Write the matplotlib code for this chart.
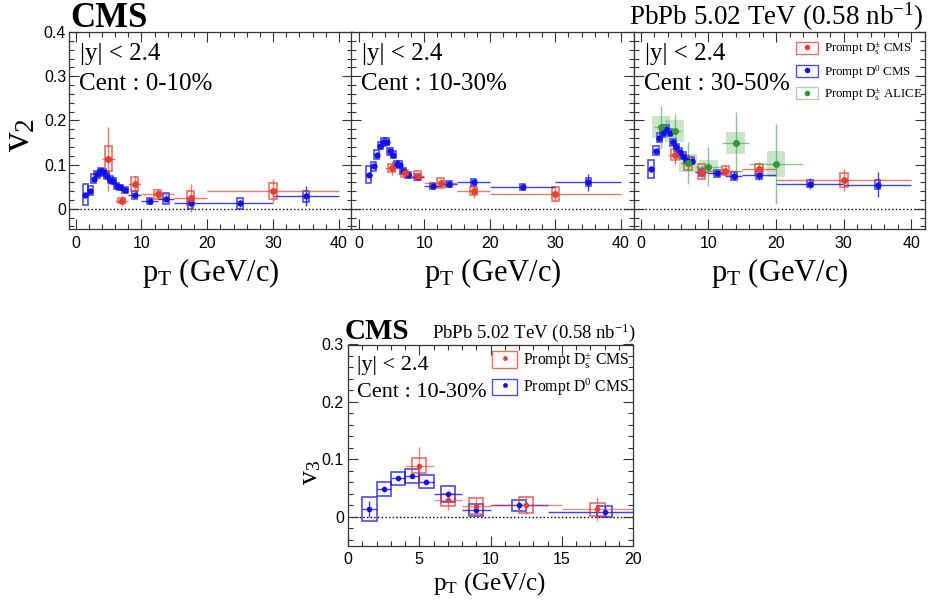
import matplotlib
matplotlib.use("Agg")
import matplotlib.pyplot as plt
from matplotlib.patches import Rectangle, Patch
from matplotlib.lines import Line2D
from matplotlib.legend_handler import HandlerTuple
from matplotlib.ticker import MultipleLocator, FuncFormatter
from matplotlib.colors import to_rgba

plt.rcParams['font.family'] = 'Liberation Serif'
plt.rcParams['mathtext.fontset'] = 'custom'
plt.rcParams['mathtext.rm'] = 'Liberation Serif'
plt.rcParams['mathtext.it'] = 'Liberation Serif:italic'
plt.rcParams['mathtext.bf'] = 'Liberation Serif:bold'

W, H = 932, 614

# %%
# D0 v2 (CMS), same pT bins in all three centrality classes
d0_pt = [1.5, 2.25, 2.75, 3.25, 3.75, 4.25, 4.75, 5.25, 5.75, 6.25, 6.75, 7.5, 9, 11.25, 13.75, 17.5, 25, 35]
d0_xerr = [0.5, 0.25, 0.25, 0.25, 0.25, 0.25, 0.25, 0.25, 0.25, 0.25, 0.25, 0.5, 1, 1.25, 1.25, 2.5, 5, 5]

d0_v2_010 = [0.032, 0.041, 0.068, 0.078, 0.085, 0.082, 0.075, 0.066, 0.062, 0.052, 0.048, 0.042, 0.031, 0.0175, 0.023, 0.012, 0.012, 0.028]
d0_stat_010 = [0.006, 0.005, 0.004, 0.004, 0.004, 0.004, 0.004, 0.004, 0.004, 0.004, 0.004, 0.004, 0.005, 0.006, 0.007, 0.009, 0.008, 0.023]
d0_syst_010 = [0.023, 0.011, 0.01, 0.008, 0.008, 0.008, 0.008, 0.007, 0.007, 0.007, 0.006, 0.006, 0.009, 0.006, 0.012, 0.013, 0.012, 0.013]

d0_v2_1030 = [0.077, 0.096, 0.122, 0.143, 0.151, 0.152, 0.13, 0.122, 0.102, 0.10, 0.086, 0.077, 0.071, 0.052, 0.055, 0.06, 0.05, 0.06]
d0_stat_1030 = [0.005, 0.004, 0.003, 0.003, 0.003, 0.003, 0.003, 0.003, 0.003, 0.003, 0.003, 0.003, 0.003, 0.004, 0.005, 0.005, 0.006, 0.019]
d0_syst_1030 = [0.019, 0.01, 0.01, 0.008, 0.008, 0.008, 0.008, 0.008, 0.007, 0.007, 0.007, 0.007, 0.007, 0.007, 0.007, 0.008, 0.007, 0.009]

d0_v2_3050 = [0.090, 0.131, 0.161, 0.171, 0.181, 0.172, 0.15, 0.139, 0.129, 0.12, 0.111, 0.109, 0.082, 0.08, 0.074, 0.076, 0.057, 0.054]
d0_stat_3050 = [0.006, 0.005, 0.004, 0.004, 0.004, 0.004, 0.004, 0.004, 0.004, 0.004, 0.004, 0.004, 0.005, 0.006, 0.008, 0.01, 0.012, 0.028]
d0_syst_3050 = [0.02, 0.01, 0.01, 0.008, 0.008, 0.008, 0.008, 0.008, 0.008, 0.008, 0.008, 0.008, 0.008, 0.008, 0.008, 0.009, 0.008, 0.01]

# Ds v2 (CMS)
ds_pt = [5, 7, 9, 12.5, 17.5, 30]
ds_xerr = [1, 1, 1, 2.5, 2.5, 10]

ds_v2_010 = [0.113, 0.018, 0.056, 0.033, 0.024, 0.041]
ds_stat_010 = [0.073, 0.012, 0.017, 0.011, 0.031, 0.026]
ds_syst_010 = [0.028, 0.006, 0.015, 0.010, 0.015, 0.018]

ds_v2_1030 = [0.092, 0.080, 0.075, 0.058, 0.039, 0.033]
ds_stat_1030 = [0.016, 0.010, 0.008, 0.009, 0.015, 0.017]
ds_syst_1030 = [0.009, 0.008, 0.010, 0.012, 0.009, 0.016]

ds_v2_3050 = [0.122, 0.103, 0.084, 0.086, 0.090, 0.064]
ds_stat_3050 = [0.021, 0.015, 0.016, 0.012, 0.016, 0.025]
ds_syst_3050 = [0.012, 0.015, 0.017, 0.010, 0.011, 0.016]

# Ds v2 (ALICE), 30-50%
al_pt = [3, 5, 7, 10, 14, 20]
al_xerr = [1, 1, 1, 2, 2, 4]
al_v2 = [0.184, 0.176, 0.103, 0.095, 0.148, 0.101]
al_stat = [0.049, 0.039, 0.048, 0.044, 0.070, 0.091]
al_syst = [0.025, 0.024, 0.020, 0.016, 0.025, 0.030]

# v3, 10-30%
d0v3_pt = [1.5, 2.5, 3.5, 4.5, 5.5, 7, 9, 12, 18]
d0v3_xerr = [0.5, 0.5, 0.5, 0.5, 0.5, 1, 1, 2, 4]
d0v3_val = [0.013, 0.049, 0.067, 0.071, 0.061, 0.039, 0.012, 0.020, 0.009]
d0v3_stat = [0.014, 0.005, 0.004, 0.004, 0.004, 0.005, 0.005, 0.006, 0.010]
d0v3_syst = [0.021, 0.012, 0.011, 0.012, 0.011, 0.014, 0.011, 0.010, 0.010]

dsv3_pt = [5, 7, 9, 12.5, 17.5]
dsv3_xerr = [1, 1, 1, 2.5, 2.5]
dsv3_val = [0.089, 0.029, 0.019, 0.020, 0.013]
dsv3_stat = [0.033, 0.017, 0.014, 0.015, 0.021]
dsv3_syst = [0.0125, 0.011, 0.014, 0.014, 0.011]

cent_labels = ["Cent : 0-10%", "Cent : 10-30%", "Cent : 30-50%"]

RED = "#e8402e"
BLUE = "#1010f0"
GREEN = "#2f9a2f"

# %%
fig = plt.figure(figsize=(W / 100, H / 100), dpi=100)


def rect(l, r, t, b):
    return [l / W, 1 - b / H, (r - l) / W, (b - t) / H]


def fxy(x, y):
    return (x / W, 1 - y / H)


def style(ax, xlim, ylim, xmaj, xmin, ymaj, ymin, lsize, ylabels=True):
    ax.set_xlim(xlim)
    ax.set_ylim(ylim)
    ax.xaxis.set_major_locator(MultipleLocator(xmaj))
    ax.xaxis.set_minor_locator(MultipleLocator(xmin))
    ax.yaxis.set_major_locator(MultipleLocator(ymaj))
    ax.yaxis.set_minor_locator(MultipleLocator(ymin))
    ax.yaxis.set_major_formatter(FuncFormatter(lambda v, _: "0" if abs(v) < 1e-9 else f"{v:.1f}"))
    ax.tick_params(which='both', direction='in', top=True, right=True, labelsize=lsize,
                   labelfontfamily='Liberation Sans', width=0.8, colors='#333333', labelcolor='black')
    ax.tick_params(which='major', length=7)
    ax.tick_params(which='minor', length=3.5)
    ax.tick_params(axis='x', pad=5)
    ax.tick_params(axis='y', pad=2)
    if not ylabels:
        ax.tick_params(labelleft=False)
    for sp in ax.spines.values():
        sp.set_linewidth(0.9)
        sp.set_color('#333333')
    ax.axhline(0, color='k', ls=':', lw=1.0, zorder=1)


def draw(ax, pt, val, stat, syst, xerr, color, bw, ms, ealpha=0.8, filled=False):
    for x, y, s in zip(pt, val, syst):
        if filled:
            ax.add_patch(Rectangle((x - bw, y - s), 2 * bw, 2 * s, facecolor=color,
                                   alpha=0.25, edgecolor='none', zorder=2))
        else:
            ax.add_patch(Rectangle((x - bw, y - s), 2 * bw, 2 * s, facecolor='none',
                                   edgecolor=color, alpha=0.75, lw=1.2, zorder=2))
    ax.errorbar(pt, val, yerr=stat, xerr=xerr, fmt='o', color=color, ms=ms, mew=0,
                ecolor=to_rgba(color, ealpha), elinewidth=1.0, capsize=0, zorder=3)


# %%
# top row: v2
frames = [(69, 352), (351, 634), (634, 925)]
xlims = [(-1, 42), (-1.2, 42), (-1, 42)]
d0_sets = [(d0_v2_010, d0_stat_010, d0_syst_010),
           (d0_v2_1030, d0_stat_1030, d0_syst_1030),
           (d0_v2_3050, d0_stat_3050, d0_syst_3050)]
ds_sets = [(ds_v2_010, ds_stat_010, ds_syst_010),
           (ds_v2_1030, ds_stat_1030, ds_syst_1030),
           (ds_v2_3050, ds_stat_3050, ds_syst_3050)]

top_axes = []
for i, (l, r) in enumerate(frames):
    ax = fig.add_axes(rect(l, r, 32, 229))
    style(ax, xlims[i], (-0.046, 0.4), 10, 2, 0.1, 0.02, 11.5, ylabels=(i == 0))
    v, st, sy = d0_sets[i]
    draw(ax, d0_pt, v, st, sy, d0_xerr, BLUE, 0.4, 4.5)
    v, st, sy = ds_sets[i]
    draw(ax, ds_pt, v, st, sy, ds_xerr, RED, 0.55, 5, ealpha=0.7)
    if i == 2:
        draw(ax, al_pt, al_v2, al_stat, al_syst, al_xerr, GREEN, 1.35, 5, ealpha=0.55, filled=True)
    fig.text(*fxy(l + 11, 60), "|y| < 2.4", fontsize=18, va='baseline')
    fig.text(*fxy(l + 10, 90), cent_labels[i], fontsize=18, va='baseline')
    fig.text(*fxy((l + r) / 2, 281), r"p$_\mathrm{T}$ (GeV/c)", fontsize=22, ha='center', va='baseline')
    top_axes.append(ax)

fig.text(*fxy(20, 135), r"v$_\mathrm{2}$", fontsize=28, rotation=90, ha='center', va='center')
fig.text(*fxy(70, 27), "CMS", fontsize=25, weight='bold', va='baseline')
fig.text(*fxy(924, 25), r"PbPb 5.02 TeV (0.58 nb$^\mathrm{-1}$)", fontsize=19.5, ha='right', va='baseline')

h_ds = (Patch(facecolor='none', edgecolor=to_rgba(RED, 0.75), lw=1.0),
        Line2D([], [], marker='o', ls='', color=RED, ms=4, mew=0))
h_d0 = (Patch(facecolor='none', edgecolor=to_rgba(BLUE, 0.75), lw=1.0),
        Line2D([], [], marker='o', ls='', color=BLUE, ms=4, mew=0))
h_al = (Patch(facecolor='none', edgecolor=to_rgba(GREEN, 0.4), lw=1.0),
        Line2D([], [], marker='o', ls='', color=GREEN, ms=4, mew=0))
top_axes[2].legend([h_ds, h_d0, h_al],
                   [r"Prompt D$_\mathrm{s}^{\pm}$ CMS", r"Prompt D$^\mathrm{0}$ CMS", r"Prompt D$_\mathrm{s}^{\pm}$ ALICE"],
                   handler_map={tuple: HandlerTuple(ndivide=1)},
                   loc='upper left', bbox_to_anchor=fxy(796, 41), bbox_transform=fig.transFigure,
                   frameon=False, fontsize=9.3, handlelength=1.7, handleheight=1.05,
                   handletextpad=0.45, labelspacing=0.45, borderpad=0, borderaxespad=0)

# %%
# bottom: v3
ax = fig.add_axes(rect(348, 633, 344.5, 545.5))
style(ax, (0, 20), (-0.05, 0.3), 5, 1, 0.1, 0.02, 11.5)
ax.tick_params(axis='y', pad=3)
draw(ax, d0v3_pt, d0v3_val, d0v3_stat, d0v3_syst, d0v3_xerr, BLUE, 0.5, 4)
draw(ax, dsv3_pt, dsv3_val, dsv3_stat, dsv3_syst, dsv3_xerr, RED, 0.5, 4, ealpha=0.6)

fig.text(*fxy(345, 339), "CMS", fontsize=21, weight='bold', va='baseline')
fig.text(*fxy(636, 338), r"PbPb 5.02 TeV (0.58 nb$^\mathrm{-1}$)", fontsize=13.5, ha='right', va='baseline')
fig.text(*fxy(357, 370), "|y| < 2.4", fontsize=16, va='baseline')
fig.text(*fxy(357, 397), "Cent : 10-30%", fontsize=16, va='baseline')
fig.text(*fxy(490, 590), r"p$_\mathrm{T}$ (GeV/c)", fontsize=18, ha='center', va='baseline')
fig.text(*fxy(311, 472), r"v$_\mathrm{3}$", fontsize=20, rotation=90, ha='center', va='center')

h_ds3 = (Patch(facecolor='none', edgecolor=to_rgba(RED, 0.75), lw=1.0),
         Line2D([], [], marker='o', ls='', color=RED, ms=3.5, mew=0))
h_d03 = (Patch(facecolor='none', edgecolor=to_rgba(BLUE, 0.75), lw=1.0),
         Line2D([], [], marker='o', ls='', color=BLUE, ms=3.5, mew=0))
ax.legend([h_ds3, h_d03], [r"Prompt D$_\mathrm{s}^{\pm}$ CMS", r"Prompt D$^\mathrm{0}$ CMS"],
          handler_map={tuple: HandlerTuple(ndivide=1)},
          loc='upper left', bbox_to_anchor=fxy(492, 350), bbox_transform=fig.transFigure,
          frameon=False, fontsize=11.3, handlelength=1.6, handleheight=1.25,
          handletextpad=0.35, labelspacing=0.4, borderpad=0, borderaxespad=0)

fig.savefig("out.png", dpi=100)
